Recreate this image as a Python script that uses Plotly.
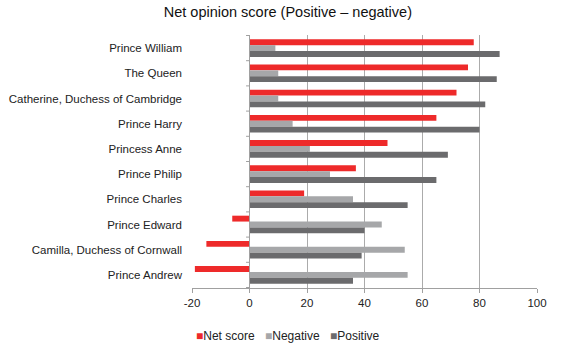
import plotly.graph_objects as go

royals = ["Prince William", "The Queen", "Catherine, Duchess of Cambridge",
          "Prince Harry", "Princess Anne", "Prince Philip", "Prince Charles",
          "Prince Edward", "Camilla, Duchess of Cornwall", "Prince Andrew"]
net_score = [78, 76, 72, 65, 48, 37, 19, -6, -15, -19]
negative = [9, 10, 10, 15, 21, 28, 36, 46, 54, 55]
positive = [87, 86, 82, 80, 69, 65, 55, 40, 39, 36]
x_ticks = [-20, 0, 20, 40, 60, 80, 100]
x_tick_labels = ["-20", "0", "20", "40", "60", "80", "100"]

series = [
    ("Net score", net_score, "#EE2A2A"),
    ("Negative", negative, "#A6A7A9"),
    ("Positive", positive, "#6B6B6D"),
]

L, R, T, B = 192, 33, 35, 62
W, H = 570, 350
plot_w = W - L - R

fig = go.Figure()
for name, vals, color in series:
    fig.add_trace(go.Bar(
        y=royals, x=vals, name=name, orientation="h",
        marker=dict(color=color, line=dict(width=0)),
        showlegend=False,
    ))

# vertical axis line at zero with small category-boundary ticks
shapes = [dict(type="line", xref="x", yref="paper", x0=0, x1=0, y0=0, y1=1,
               line=dict(color="#A0A0A0", width=1))]
for i in range(len(royals) + 1):
    shapes.append(dict(type="line", xref="x", yref="y", x0=-1.2, x1=0,
                       y0=i - 0.5, y1=i - 0.5,
                       line=dict(color="#A0A0A0", width=1)))

# compact legend row below the axis
legend_left_px = [194, 263, 328]
annotations = []
for (name, _, color), px in zip(series, legend_left_px):
    annotations.append(dict(
        xref="paper", yref="paper",
        x=(px - L) / plot_w, y=-(336 - (H - B)) / (H - T - B),
        xanchor="left", yanchor="middle", showarrow=False,
        text=f'<span style="color:{color}">\u25A0</span>{name}',
        font=dict(size=12, color="#222222"),
    ))

fig.update_layout(
    width=W, height=H,
    margin=dict(l=L, r=R, t=T, b=B, autoexpand=False),
    paper_bgcolor="white", plot_bgcolor="white",
    font=dict(family="Liberation Sans, Arial, sans-serif", size=11, color="#222222"),
    title=dict(text="Net opinion score (Positive \u2013 negative)",
               font=dict(size=14.5, color="#111111"),
               x=0.505, xanchor="center", y=0.965, yanchor="middle"),
    barmode="group", bargap=0.3, bargroupgap=0,
    showlegend=False,
    shapes=shapes,
    annotations=annotations,
)
fig.update_xaxes(range=[-20, 100], tickvals=x_ticks, ticktext=x_tick_labels,
                 showgrid=True, gridcolor="#ABABAB", gridwidth=1, zeroline=False,
                 showline=True, linecolor="#A0A0A0", ticks="outside",
                 ticklen=4, tickcolor="#A0A0A0", tickfont=dict(size=11.5),
                 automargin=False)
fig.update_yaxes(autorange="reversed", showgrid=False, zeroline=False,
                 showline=False, ticks="", ticklabelstandoff=9,
                 tickfont=dict(size=11.5), automargin=False)

fig.write_html("out.html")
